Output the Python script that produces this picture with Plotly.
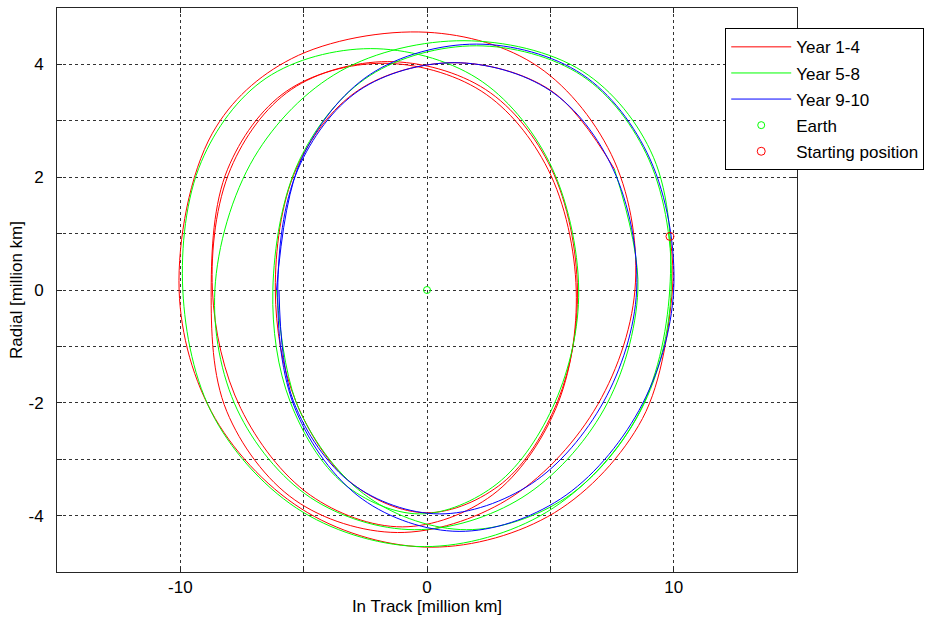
import plotly.graph_objects as go

# ---- data (million km) ----
red_x = [9.85, 9.95,
         8.735, 5.167, 0.2, -4.834, -8.585, -10.05,
         -8.7, -5.5, 0.0, 4.511, 7.597, 8.43,
         6.759, 3.234, -1.2, -5.356, -8.119, -8.75,
         -8.084, -5.686, -1.8, 2.196, 4.904, 6.05,
         5.225, 2.644, -1.0, -4.732, -7.549, -8.7,
         -7.954, -5.504, -1.6, 2.378, 5.034, 6.1,
         5.292, 3.059, 0.0, -3.066, -5.317, -6.15,
         -5.303, -2.803, 1.1, 5.027, 7.597]
red_y = [0.95, 0.0,
         -2.28, -3.949, -4.56, -3.949, -2.28, 0.0,
         2.78, 4.1, 4.57, 3.958, 2.285, 0.0,
         -2.15, -3.724, -4.3, -3.724, -2.15, 0.0,
         2.141, 3.528, 4.02, 3.528, 2.141, 0.0,
         -2.1, -3.637, -4.2, -3.637, -2.1, 0.0,
         2.157, 3.554, 4.05, 3.554, 2.157, 0.0,
         -1.975, -3.421, -3.95, -3.421, -1.975, 0.0,
         2.146, 3.536, 4.03, 3.536, 2.146]

green_x = [7.597, 8.55,
           7.164, 3.851, -0.5, -4.724, -7.689, -8.6,
           -7.002, -3.519, 1.5, 6.303, 9.18, 9.84,
           8.482, 4.844, -0.1, -5.026, -8.612, -9.9,
           -9.143, -6.522, -2.3, 2.026, 4.941, 6.15,
           5.194, 2.834, -0.3, -3.367, -5.544, -6.25,
           -5.168, -2.322, 2.0, 6.28, 9.004, 9.9,
           8.678, 5.64, 1.6, -2.36, -5.178, -6.1]
green_y = [2.146, 0.0,
           -2.125, -3.681, -4.25, -3.681, -2.125, 0.0,
           2.354, 3.879, 4.42, 3.879, 2.354, 0.0,
           -2.275, -3.94, -4.55, -3.94, -2.275, 0.0,
           2.28, 3.756, 4.28, 3.756, 2.28, 0.0,
           -1.985, -3.438, -3.97, -3.438, -1.985, 0.0,
           2.306, 3.8, 4.33, 3.8, 2.306, 0.0,
           -2.125, -3.681, -4.25, -3.681, -2.125, 0.0]

blue_x = [-6.1,
          -5.087, -2.293, 2.0, 6.281, 9.041, 10.0,
          8.587, 5.403, 1.3, -2.623, -5.313, -6.05,
          -5.226, -2.76, 1.1, 4.99, 7.542, 8.5,
          7.154, 4.225, 0.5, -3.025, -5.404, -6.0]
blue_y = [0.0,
          2.322, 3.826, 4.36, 3.826, 2.322, 0.0,
          -2.14, -3.707, -4.28, -3.707, -2.14, 0.0,
          2.146, 3.536, 4.03, 3.536, 2.146, 0.0,
          -1.985, -3.438, -3.97, -3.438, -1.985, 0.0]

earth_x, earth_y = [0.0], [0.0]
start_x, start_y = [9.85], [0.95]

x_tick_vals = [-15, -10, -5, 0, 5, 10, 15]
x_tick_text = ["", "-10", "", "0", "", "10", ""]
y_tick_vals = [-5, -4, -3, -2, -1, 0, 1, 2, 3, 4, 5]
y_tick_text = ["", "-4", "", "-2", "", "0", "", "2", "", "4", ""]

FONT = "Liberation Sans, Arial, Helvetica, sans-serif"

fig = go.Figure()
for xs, ys, col, name in [(red_x, red_y, "#ff0000", "Year 1-4"),
                          (green_x, green_y, "#00ff00", "Year 5-8"),
                          (blue_x, blue_y, "#0000ff", "Year 9-10")]:
    fig.add_trace(go.Scatter(x=xs, y=ys, mode="lines", name=name, legendgroup=name,
                             line=dict(color=col, width=1, shape="spline", smoothing=1)))
fig.add_trace(go.Scatter(x=earth_x, y=earth_y, mode="markers", name="Earth", legendgroup="Earth",
                         marker=dict(symbol="circle-open", color="#00ff00", size=7,
                                     line=dict(width=1))))
fig.add_trace(go.Scatter(x=start_x, y=start_y, mode="markers", name="Starting position",
                         legendgroup="Start",
                         marker=dict(symbol="circle-open", color="#ff0000", size=8,
                                     line=dict(width=1))))

axis_common = dict(showgrid=True, gridcolor="#333333", griddash="dot", gridwidth=1,
                   showline=True, linecolor="#262626", linewidth=1, mirror="ticks",
                   ticks="inside", ticklen=5, tickcolor="#262626", zeroline=False,
                   automargin=False,
                   tickfont=dict(family=FONT, size=17, color="#000"))

fig.update_layout(
    width=932, height=619, autosize=False,
    margin=dict(l=57, r=133, t=8, b=47),
    paper_bgcolor="white", plot_bgcolor="white",
    font=dict(family=FONT, size=17, color="#000"),
    showlegend=True,
    legend=dict(x=0.903, y=0.964, xanchor="left", yanchor="top",
                bgcolor="white", bordercolor="#000", borderwidth=1,
                font=dict(family=FONT, size=17, color="#000"),
                tracegroupgap=1, itemwidth=60),
    xaxis=dict(range=[-15, 15], tickvals=x_tick_vals, ticktext=x_tick_text,
               title=dict(text="In Track [million km]", standoff=2,
                          font=dict(family=FONT, size=17)),
               **axis_common),
    yaxis=dict(range=[-5, 5], tickvals=y_tick_vals, ticktext=y_tick_text,
               ticklabelstandoff=9,
               title=dict(text="Radial [million km]", standoff=1,
                          font=dict(family=FONT, size=17)),
               **axis_common),
)

fig.write_html("out.html", config={"displayModeBar": False},
               post_script="document.body.style.margin='0px';"
                           "document.body.style.overflow='hidden';")
